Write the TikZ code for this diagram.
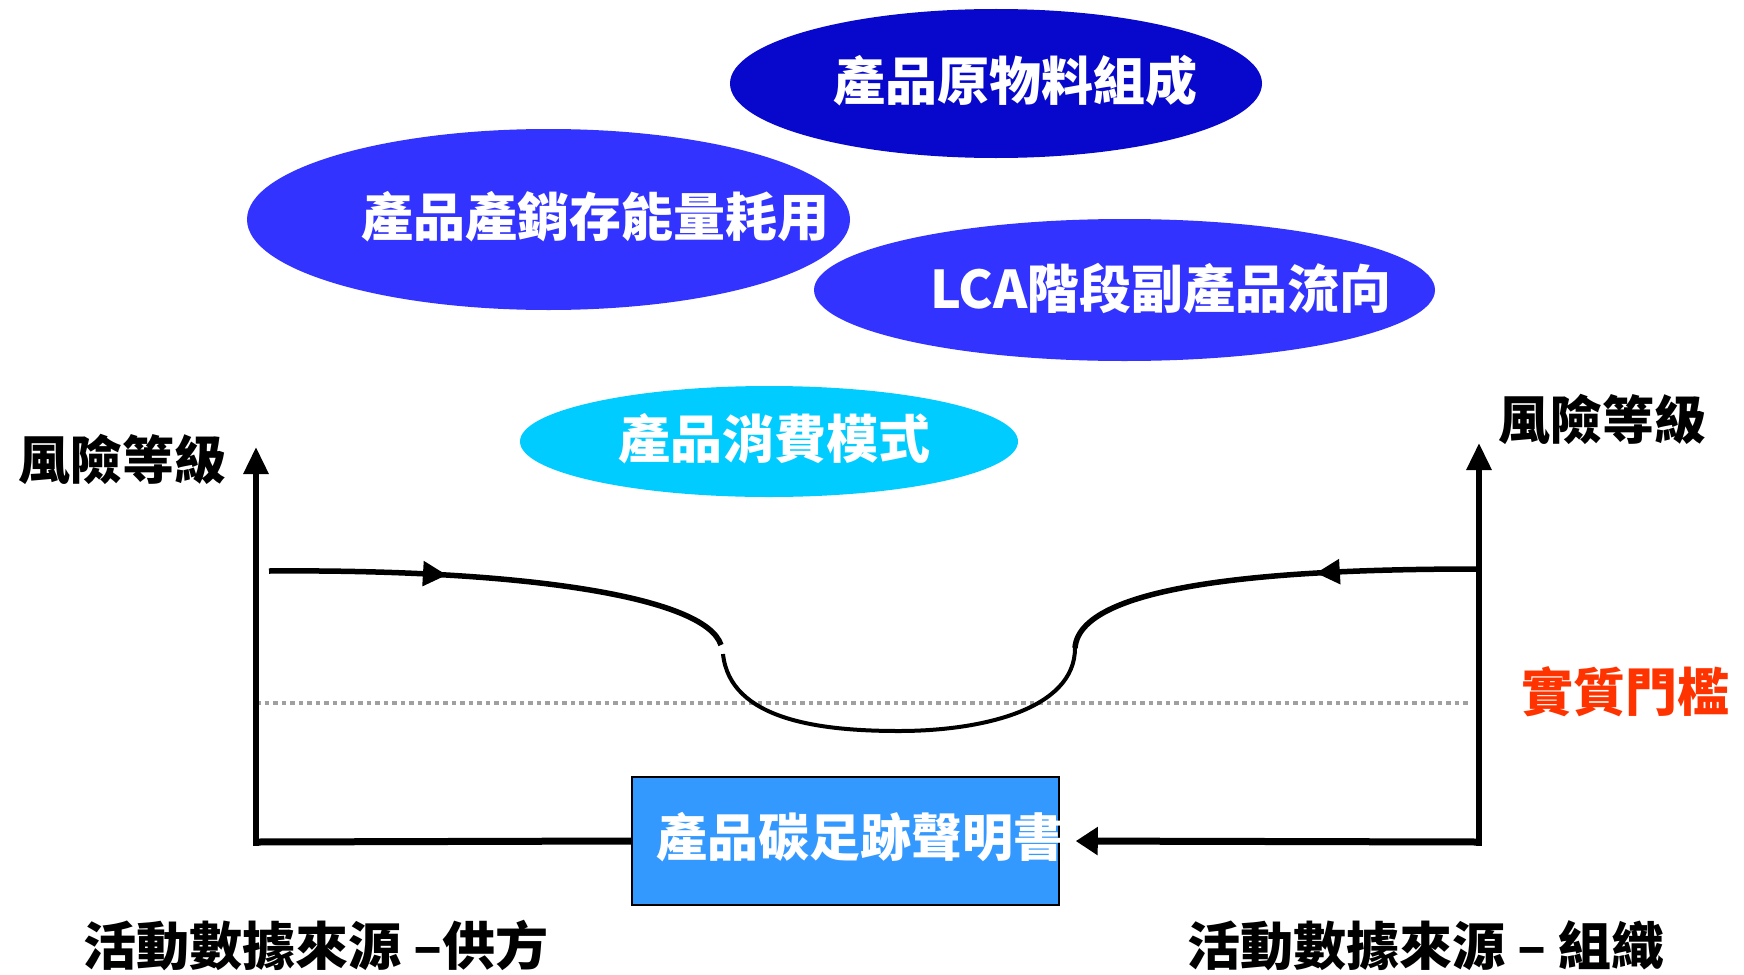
\documentclass[tikz,border=0pt]{standalone}
\usepackage{fontspec}
\newfontfamily\cjk{Noto Sans CJK TC}
\usetikzlibrary{shapes.geometric,arrows.meta,decorations.markings}
\definecolor{eDark}{HTML}{0808CC}
\definecolor{eMid}{HTML}{3333FF}
\definecolor{eCyan}{HTML}{00CCFF}
\definecolor{boxBlue}{HTML}{3399FF}
\definecolor{redT}{HTML}{FF3300}
\definecolor{dotGray}{HTML}{A0A0A0}
\begin{document}
\begin{tikzpicture}[x=1pt,y=-1pt,
  bubble/.style={ellipse, draw=none, inner sep=0pt},
  wtext/.style={text=white, inner sep=0pt, font=\cjk\bfseries\fontsize{52}{60}\selectfont},
  btext/.style={text=black, inner sep=0pt, font=\cjk\bfseries\fontsize{52}{60}\selectfont},
  bottomtext/.style={text=black, inner sep=0pt, font=\cjk\bfseries\fontsize{52}{60}\selectfont},
  axisline/.style={line width=6pt, -{Triangle[length=27pt,width=24pt]}},
  baseline/.style={line width=7pt},
  curvethick/.style={line width=5.5pt},
  curvethin/.style={line width=4pt},
  midarrow/.style={postaction={decorate}, decoration={markings, mark=at position #1 with {\arrow{Triangle[length=24pt,width=24pt]}}}},
  dotline/.style={draw=dotGray, line width=4pt, dash pattern=on 4.5pt off 4pt}
]
\useasboundingbox (0,0) rectangle (1744,974);

% ellipses
\node[bubble, fill=eDark, minimum width=532pt, minimum height=149pt] (e1) at (996,83.5) {};
\node[bubble, fill=eMid, minimum width=603pt, minimum height=181pt] (e2) at (548.5,219.5) {};
\node[bubble, fill=eMid, minimum width=621pt, minimum height=142pt] (e3) at (1124.5,290) {};
\node[bubble, fill=eCyan, minimum width=498pt, minimum height=111pt] (e4) at (769,441.5) {};

\node[wtext] (t1) at (1015,81) {產品原物料組成};
\node[wtext] (t2) at (595,217) {產品產銷存能量耗用};
\node[wtext] (t3) at (1161,289) {LCA階段副產品流向};
\node[wtext] (t4) at (774,439) {產品消費模式};

% axes coordinates
\coordinate (Lc) at (256,842);
\coordinate (Lt) at (256,447);
\coordinate (Rc) at (1479,842);
\coordinate (Rt) at (1479,443);
\coordinate (Dl) at (256,703);
\coordinate (Dr) at (1470,703);

% dotted threshold line
\draw[dotline] (Dl) -- (Dr);

% curve
\coordinate (c0) at (269,571);
\coordinate (c1) at (721,645);
\coordinate (c2) at (723,654);
\coordinate (c3) at (899,731);
\coordinate (c4) at (1075,648);
\coordinate (c5) at (1478,569);
\draw[curvethick, midarrow=0.38] (c0) .. controls (520,569) and (705,596) .. (c1);
\draw[curvethin] (c2) .. controls (730,720) and (820,731) .. (c3)
                      .. controls (980,731) and (1075,710) .. (c4);
\draw[curvethick, midarrow=0.38] (c5) .. controls (1300,569) and (1080,580) .. (c4);

% box
\node[draw=black, line width=1.5pt, fill=boxBlue, minimum width=427pt, minimum height=128pt, inner sep=0pt] (box) at (845.5,841) {};
\node[wtext, anchor=west, font=\cjk\bfseries\fontsize{51}{60}\selectfont] (boxt) at (656,837) {產品碳足跡聲明書};

% axes and base lines
\draw[baseline] (Lc) -- (box.west);
\draw[axisline] ([yshift=-3.5pt]Lc) -- (Lt);
\draw[axisline] ([yshift=-3.5pt]Rc) -- (Rt);
\draw[baseline, -{Triangle[length=22pt,width=27pt]}, shorten >=16pt] (Rc) -- (box.east);

% labels
\node[btext] (ll) at (122,459) {風險等級};
\node[btext] (rl) at (1602,419) {風險等級};
\node[btext, text=redT] (thr) at (1625,692) {實質門檻};
\node[bottomtext, anchor=west, xscale=1.02] (bl) at (83,946) {活動數據來源 –供方};
\node[bottomtext, anchor=west, xscale=1.02] (br) at (1187,946) {活動數據來源 – 組織};
\end{tikzpicture}
\end{document}
